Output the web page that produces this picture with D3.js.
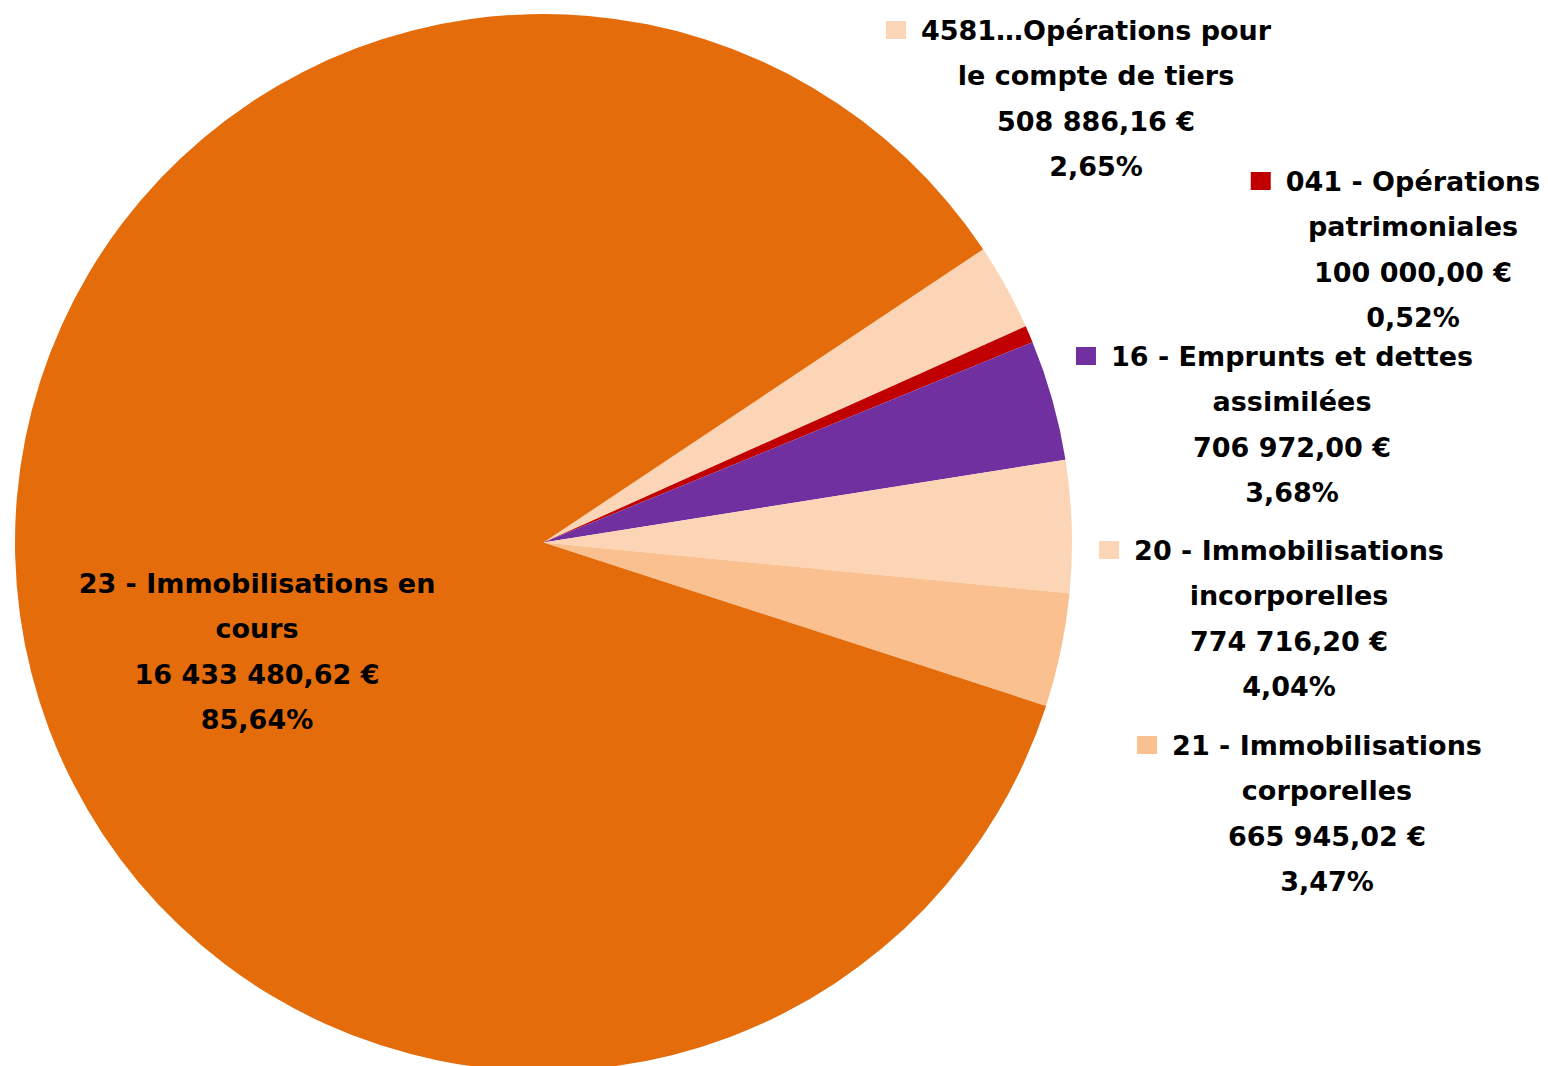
<!DOCTYPE html>
<html>
<head>
<meta charset="utf-8">
<script src="https://cdn.jsdelivr.net/npm/d3@7"></script>
<style>
  body { margin: 0; background: #fff; }
  svg { display: block; }
  text { font-family: "DejaVu Sans", sans-serif; font-weight: bold; font-size: 27px; fill: #000; }
</style>
</head>
<body>
<div class="chart"></div>
<script>
// data, in drawing order (clockwise)
const categories = [
  "4581…Opérations pour le compte de tiers",
  "041 - Opérations patrimoniales",
  "16 - Emprunts et dettes assimilées",
  "20 - Immobilisations incorporelles",
  "21 - Immobilisations corporelles",
  "23 - Immobilisations en cours"
];
const values = [508886.16, 100000.00, 706972.00, 774716.20, 665945.02, 16433480.62];
const labelLines = [
  ["4581…Opérations pour", "le compte de tiers"],
  ["041 - Opérations", "patrimoniales"],
  ["16 - Emprunts et dettes", "assimilées"],
  ["20 - Immobilisations", "incorporelles"],
  ["21 - Immobilisations", "corporelles"],
  ["23 - Immobilisations en", "cours"]
];
const colors = ["#FBD5B5", "#C00000", "#7030A0", "#FBD5B5", "#FAC090", "#E46C0A"];

// layout of the label blocks (center x, first line y), as placed by the original
const labelPos = [[1096, 30], [1413, 181], [1292, 356], [1289, 550], [1327, 745], [257, 583]];
const showKey = [true, true, true, true, true, false];

const width = 1548, height = 1066;
const cx = 543.5, cy = 542.5, radius = 528.5;
const lineH = 45.6;

const svg = d3.select(".chart").append("svg")
  .attr("width", width)
  .attr("height", height);

const total = d3.sum(values);
const startAngle = 56.3 * Math.PI / 180;

const pie = d3.pie()
  .sort(null)
  .value(d => d)
  .startAngle(startAngle)
  .endAngle(startAngle + 2 * Math.PI);

const arc = d3.arc().innerRadius(0).outerRadius(radius);

const g = svg.append("g").attr("transform", `translate(${cx},${cy})`);

g.selectAll("path")
  .data(pie(values))
  .join("path")
  .attr("d", arc)
  .attr("fill", (d, i) => colors[i]);

const euro = v => v.toLocaleString("fr-FR", { minimumFractionDigits: 2, maximumFractionDigits: 2 })
  .replace(/\u202f|\u00a0/g, " ") + " €";
const pct = v => (v / total * 100).toFixed(2).replace(".", ",") + "%";

const labels = svg.selectAll("g.label")
  .data(values)
  .join("g")
  .attr("class", "label")
  .attr("transform", (d, i) => `translate(${labelPos[i][0]},${labelPos[i][1]})`);

labels.each(function (v, i) {
  const lines = labelLines[i].concat([euro(v), pct(v)]);
  const sel = d3.select(this);
  const texts = sel.selectAll("text")
    .data(lines)
    .join("text")
    .attr("text-anchor", "middle")
    .attr("dominant-baseline", "central")
    .attr("x", 0)
    .attr("y", (d, j) => j * lineH)
    .text(d => d);

  if (showKey[i]) {
    const w = texts.node().getComputedTextLength();
    sel.append("rect")
      .attr("x", -w / 2 - 35)
      .attr("y", -9)
      .attr("width", 20)
      .attr("height", 18)
      .attr("fill", colors[i]);
  }
});
</script>
</body>
</html>
